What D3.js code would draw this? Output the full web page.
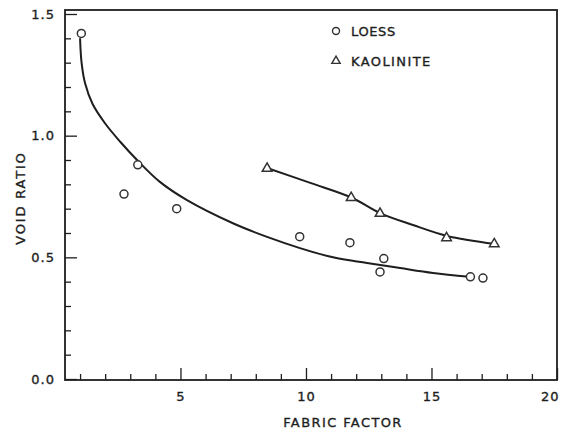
<!DOCTYPE html>
<html>
<head>
<meta charset="utf-8">
<script src="https://cdn.jsdelivr.net/npm/d3@7"></script>
<style>
  body { margin: 0; background: #fff; }
  text { font-family: "DejaVu Sans", sans-serif; fill: #1e1e1e; stroke: #1e1e1e; stroke-width: 0.35px; }
</style>
</head>
<body>
<div id="chart"></div>
<script>
// measured points (fabric factor, void ratio)
const loessX = [1.05, 3.3, 2.75, 4.85, 9.75, 11.75, 13.1, 12.95, 16.55, 17.05];
const loessY = [1.42, 0.88, 0.76, 0.70, 0.585, 0.56, 0.495, 0.44, 0.42, 0.415];
const kaolX = [8.45, 11.8, 12.95, 15.6, 17.5];
const kaolY = [0.865, 0.745, 0.68, 0.58, 0.555];

// hand drawn trend lines
const loessFitX = [1.0, 1.06, 1.2, 1.5, 2.0, 2.6, 3.27, 4.18, 5.26, 7.09, 8.45, 9.76, 11.08, 12.43, 13.75, 15.06, 16.5];
const loessFitY = [1.40, 1.30, 1.215, 1.13, 1.05, 0.975, 0.90, 0.81, 0.735, 0.64, 0.584, 0.538, 0.50, 0.477, 0.456, 0.436, 0.42];
const kaolFitX = [8.45, 10.2, 11.83, 12.95, 14.26, 15.62, 17.53];
const kaolFitY = [0.867, 0.805, 0.745, 0.682, 0.633, 0.588, 0.555];

const xMajor = [5, 10, 15, 20];
const yMajor = [0, 0.5, 1.0, 1.5];
const legendLabels = ["LOESS", "KAOLINITE"];

const width = 563, height = 433;
const margin = { top: 10, right: 6, bottom: 53, left: 65 };
const ink = "#1e1e1e";

const svg = d3.select("#chart").append("svg")
  .attr("width", width)
  .attr("height", height);

const x = d3.scaleLinear().domain([0.4, 20]).range([margin.left, width - margin.right]);
const y = d3.scaleLinear().domain([0, 1.5]).range([379, 14]);

const xMinor = d3.range(1, 20).filter(d => d % 5 !== 0);
const yMinor = d3.range(1, 15).map(d => d / 10).filter(d => Math.round(d * 10) % 5 !== 0);

// frame
svg.append("rect")
  .attr("x", x(0.4)).attr("y", margin.top)
  .attr("width", x(20) - x(0.4))
  .attr("height", y(0) + 1 - margin.top)
  .attr("fill", "none").attr("stroke", ink).attr("stroke-width", 1.8);

function styleAxis(g) {
  g.select(".domain").remove();
  g.selectAll(".tick line").attr("stroke", ink).attr("stroke-width", 1.3);
  g.selectAll(".tick text")
    .attr("font-size", 13)
    .attr("letter-spacing", "1px")
    .style("fill", ink);
}

svg.append("g")
  .attr("transform", `translate(0,${y(0) + 1})`)
  .call(d3.axisBottom(x).tickValues(xMinor).tickSize(-6).tickFormat(""))
  .call(styleAxis);
const xAxisG = svg.append("g")
  .attr("transform", `translate(0,${y(0) + 1})`)
  .call(d3.axisBottom(x).tickValues(xMajor).tickSize(-12).tickPadding(12).tickFormat(d3.format("d")))
  .call(styleAxis);
// last label sits inside the page edge, as in the original
xAxisG.selectAll(".tick text").filter(d => d === 20).attr("text-anchor", "end").attr("dx", 2);

svg.append("g")
  .attr("transform", `translate(${x(0.4)},0)`)
  .call(d3.axisLeft(y).tickValues(yMinor).tickSize(-6).tickFormat(""))
  .call(styleAxis);
svg.append("g")
  .attr("transform", `translate(${x(0.4)},0)`)
  .call(d3.axisLeft(y).tickValues(yMajor).tickSize(-12).tickPadding(10).tickFormat(d3.format(".1f")))
  .call(styleAxis);

// axis titles
svg.append("text")
  .attr("x", 343).attr("y", 427)
  .attr("text-anchor", "middle")
  .attr("font-size", 13)
  .attr("letter-spacing", "1.4px")
  .text("FABRIC FACTOR");

svg.append("text")
  .attr("transform", "translate(25,198) rotate(-90)")
  .attr("text-anchor", "middle")
  .attr("font-size", 13)
  .attr("letter-spacing", "1.8px")
  .text("VOID RATIO");

// trend lines
const line = d3.line().x(d => x(d[0])).y(d => y(d[1])).curve(d3.curveCatmullRom.alpha(0.5));
svg.append("path")
  .datum(d3.zip(loessFitX, loessFitY))
  .attr("d", line)
  .attr("fill", "none").attr("stroke", ink).attr("stroke-width", 2);
svg.append("path")
  .datum(d3.zip(kaolFitX, kaolFitY))
  .attr("d", line)
  .attr("fill", "none").attr("stroke", ink).attr("stroke-width", 2);

// markers
const tri = d3.symbol().type(d3.symbolTriangle).size(40);

svg.selectAll("circle.loess")
  .data(d3.zip(loessX, loessY))
  .join("circle")
  .attr("class", "loess")
  .attr("cx", d => x(d[0])).attr("cy", d => y(d[1]))
  .attr("r", 4)
  .attr("fill", "#fff").attr("stroke", "#333").attr("stroke-width", 1.5);

svg.selectAll("path.kaol")
  .data(d3.zip(kaolX, kaolY))
  .join("path")
  .attr("class", "kaol")
  .attr("d", tri)
  .attr("transform", d => `translate(${x(d[0])},${y(d[1])})`)
  .attr("fill", "#fff").attr("stroke", "#333").attr("stroke-width", 1.5);

// legend
const legend = svg.append("g").attr("transform", "translate(336,31)");
legend.append("circle")
  .attr("cx", 0).attr("cy", 0).attr("r", 3.5)
  .attr("fill", "#fff").attr("stroke", "#333").attr("stroke-width", 1.4);
legend.append("path")
  .attr("d", d3.symbol().type(d3.symbolTriangle).size(30))
  .attr("transform", "translate(0,30)")
  .attr("fill", "#fff").attr("stroke", "#333").attr("stroke-width", 1.4);
legend.selectAll("text")
  .data(legendLabels)
  .join("text")
  .attr("x", 15).attr("y", (d, i) => i * 30)
  .attr("dy", "0.36em")
  .attr("font-size", 13)
  .attr("letter-spacing", (d, i) => i === 0 ? "0.6px" : "1.4px")
  .text(d => d);
</script>
</body>
</html>
